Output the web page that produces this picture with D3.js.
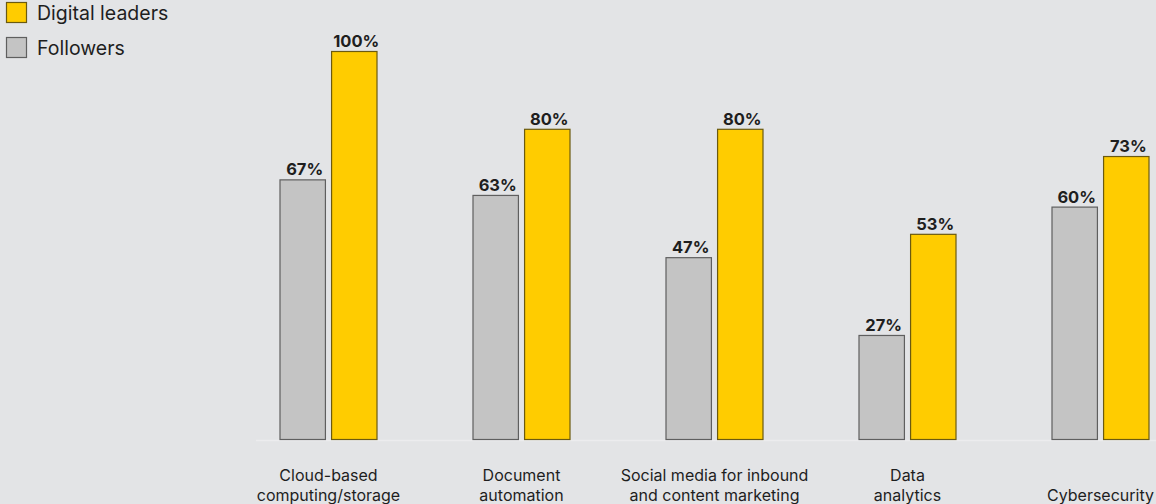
<!DOCTYPE html>
<html>
<head>
<meta charset="utf-8">
<script src="https://cdn.jsdelivr.net/npm/d3@7"></script>
<style>
  html, body { margin: 0; padding: 0; background: #e3e4e6; }
  svg { display: block; }
</style>
</head>
<body>
<svg id="chart" width="1156" height="504"></svg>
<script>
// Technology adoption: digital leaders vs followers
const categories = [
  ["Cloud-based", "computing/storage"],
  ["Document", "automation"],
  ["Social media for inbound", "and content marketing"],
  ["Data", "analytics"],
  ["Cybersecurity"]
];
const seriesNames = ["Followers", "Digital leaders"];
const followers = [67, 63, 47, 27, 60];
const leaders = [100, 80, 80, 53, 73];

const fills = { "Followers": "#c4c4c4", "Digital leaders": "#ffcc00" };
const strokes = { "Followers": "#5f5f5f", "Digital leaders": "#6b5a10" };

const svg = d3.select("#chart");
const W = 1156, H = 504;
const baseY = 440;
const font = "Inter, 'Liberation Sans', Arial, sans-serif";

const x0 = d3.scaleBand()
  .domain(d3.range(categories.length))
  .range([232, 1197])
  .paddingInner(0)
  .paddingOuter(0);
const x1 = d3.scaleBand()
  .domain(seriesNames)
  .range([0, 98])
  .paddingInner(0.1);
const y = d3.scaleLinear().domain([0, 100]).range([baseY, 51]);

// group offset so each pair sits centered in its band
const groupOffset = (x0.bandwidth() - 98) / 2;

// baseline
svg.append("line")
  .attr("x1", 256).attr("x2", W)
  .attr("y1", baseY + 0.5).attr("y2", baseY + 0.5)
  .attr("stroke", "#ececee").attr("stroke-width", 1.5);

const rows = categories.map((c, i) => ({
  i,
  values: [
    { s: "Followers", v: followers[i] },
    { s: "Digital leaders", v: leaders[i] }
  ]
}));

const groups = svg.selectAll("g.grp").data(rows).join("g")
  .attr("class", "grp")
  .attr("transform", d => `translate(${x0(d.i) + groupOffset},0)`);

groups.selectAll("rect").data(d => d.values).join("rect")
  .attr("x", d => x1(d.s) + 0.5)
  .attr("y", d => y(d.v) + 0.5)
  .attr("width", x1.bandwidth() - 1)
  .attr("height", d => baseY - y(d.v) - 1)
  .attr("fill", d => fills[d.s])
  .attr("stroke", d => strokes[d.s])
  .attr("stroke-width", 1.2);

groups.selectAll("text.val").data(d => d.values).join("text")
  .attr("class", "val")
  .attr("x", d => x1(d.s) + x1.bandwidth() / 2 + 2)
  .attr("y", d => y(d.v) - 4)
  .attr("text-anchor", "middle")
  .attr("font-family", font)
  .attr("font-weight", 700)
  .attr("font-size", 16.5)
  .attr("fill", "#1e1e1e")
  .text(d => d.v + "%");

// category labels, bottom-aligned, one text per line
const catLines = categories.flatMap((lines, i) =>
  lines.map((ln, k) => ({ i, ln, row: lines.length - 1 - k })));
svg.selectAll("text.cat").data(catLines).join("text")
  .attr("class", "cat")
  .attr("x", d => x0(d.i) + x0.bandwidth() / 2)
  .attr("y", d => 500.5 - d.row * 19.5)
  .attr("text-anchor", "middle")
  .attr("font-family", font)
  .attr("font-size", 16)
  .attr("fill", "#1e1e1e")
  .text(d => d.ln);

// legend
const legendItems = ["Digital leaders", "Followers"];
const lg = svg.selectAll("g.leg").data(legendItems).join("g")
  .attr("class", "leg")
  .attr("transform", (d, i) => `translate(6,${2 + i * 35})`);
lg.append("rect")
  .attr("x", 0.5).attr("y", 0.5)
  .attr("width", 20).attr("height", 20)
  .attr("fill", d => fills[d])
  .attr("stroke", d => strokes[d])
  .attr("stroke-width", 1.2);
lg.append("text")
  .attr("x", 31).attr("y", 18)
  .attr("font-family", font)
  .attr("font-size", 19.5)
  .attr("fill", "#1e1e1e")
  .text(d => d);
</script>
</body>
</html>
